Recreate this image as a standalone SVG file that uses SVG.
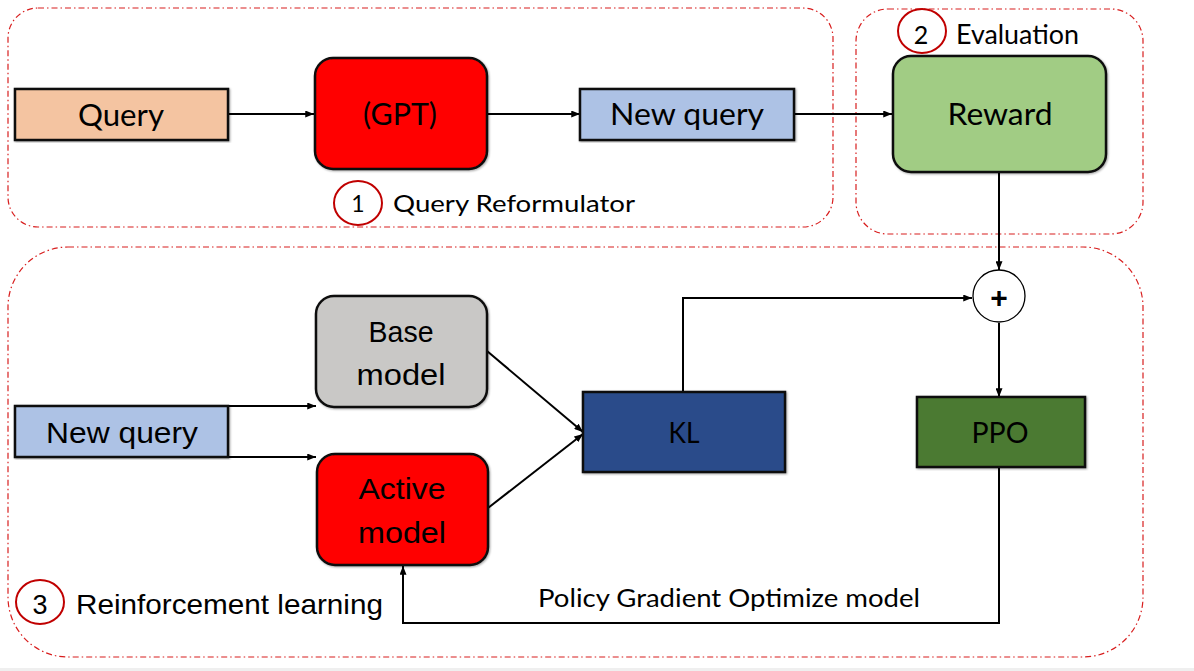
<svg xmlns="http://www.w3.org/2000/svg" width="1194" height="671" viewBox="0 0 1194 671">
<defs>
<style>
.grp{fill:none;stroke:#d81e1e;stroke-width:1.2;stroke-dasharray:6 3 1.5 3}
.box{stroke:#111;stroke-width:2.5}
.conn{fill:none;stroke:#000;stroke-width:2}
.num{fill:#fff;stroke:#c00000;stroke-width:2}
.cal{font-family:Lato,"Open Sans",sans-serif;fill:#000;text-anchor:middle}
.ar{font-family:"Liberation Sans",Arial,sans-serif;fill:#000;text-anchor:middle}
.lbl{text-anchor:start}
</style>
<marker id="ah" viewBox="0 0 10 8" refX="10" refY="4" markerWidth="9" markerHeight="7" markerUnits="userSpaceOnUse" orient="auto">
<path d="M0,0 L10,4 L0,8 z" fill="#000"/>
</marker>
<filter id="sh" x="-5%" y="-5%" width="110%" height="110%">
<feDropShadow dx="1" dy="1" stdDeviation="1" flood-color="#000" flood-opacity="0.35"/>
</filter>
</defs>
<rect x="0" y="0" width="1194" height="671" fill="#fff"/>
<rect x="0" y="668" width="1194" height="3" fill="#efefef"/>

<g id="group-reformulator">
<rect class="grp" x="8" y="8" width="825" height="219" rx="30"/>
<ellipse class="num" cx="358" cy="203" rx="24" ry="22"/>
<text class="cal" x="358" y="212" font-size="23">1</text>
<text class="cal lbl" x="393" y="212" font-size="23" textLength="242" lengthAdjust="spacingAndGlyphs">Query Reformulator</text>
</g>
<g id="group-evaluation">
<rect class="grp" x="856" y="9" width="287" height="225" rx="32"/>
<ellipse class="num" cx="922" cy="31" rx="24" ry="22"/>
<text class="cal" x="921" y="44" font-size="25">2</text>
<text class="cal lbl" x="956" y="44" font-size="26" textLength="123" lengthAdjust="spacingAndGlyphs">Evaluation</text>
</g>
<g id="group-rl">
<rect class="grp" x="8" y="247" width="1135" height="410" rx="60"/>
<ellipse class="num" cx="40" cy="602" rx="24" ry="22"/>
<text class="ar" x="40" y="614" font-size="27">3</text>
<text class="ar lbl" x="76" y="614" font-size="28" textLength="307" lengthAdjust="spacingAndGlyphs">Reinforcement learning</text>
</g>

<g id="connectors">
<path class="conn" d="M228,114 H314" marker-end="url(#ah)"/>
<path class="conn" d="M487,114 H580" marker-end="url(#ah)"/>
<path class="conn" d="M794,114 H892" marker-end="url(#ah)"/>
<path class="conn" d="M999,173 V270" marker-end="url(#ah)"/>
<path class="conn" d="M683,392 V298 H972" marker-end="url(#ah)"/>
<path class="conn" d="M999,323 V397" marker-end="url(#ah)"/>
<path class="conn" d="M228,406 H316" marker-end="url(#ah)"/>
<path class="conn" d="M228,457 H316" marker-end="url(#ah)"/>
<path class="conn" d="M487,351 L583,432" marker-end="url(#ah)"/>
<path class="conn" d="M488,508 L583,434" marker-end="url(#ah)"/>
<path class="conn" d="M999,467 V623 H403 V566" marker-end="url(#ah)"/>
<text class="cal lbl" x="538" y="607" font-size="25" textLength="382" lengthAdjust="spacingAndGlyphs">Policy Gradient Optimize model</text>
</g>

<g id="node-query">
<rect class="box" x="15" y="89" width="213" height="51" fill="#f4c4a1" filter="url(#sh)"/>
<text class="cal" x="121" y="126" font-size="30" textLength="86" lengthAdjust="spacingAndGlyphs">Query</text>
</g>
<g id="node-gpt">
<rect class="box" x="315" y="58" width="172" height="111" rx="18" fill="#ff0000" filter="url(#sh)"/>
<text class="cal" x="400" y="125" font-size="30" textLength="74" lengthAdjust="spacingAndGlyphs">(GPT)</text>
</g>
<g id="node-newquery-top">
<rect class="box" x="580" y="89" width="214" height="51" fill="#adc2e5" filter="url(#sh)"/>
<text class="cal" x="687" y="125" font-size="30" textLength="154" lengthAdjust="spacingAndGlyphs">New query</text>
</g>
<g id="node-reward">
<rect class="box" x="893" y="56" width="213" height="116" rx="18" fill="#a1cc84" filter="url(#sh)"/>
<text class="cal" x="1000" y="125" font-size="30" textLength="105" lengthAdjust="spacingAndGlyphs">Reward</text>
</g>
<g id="node-plus">
<circle cx="999" cy="296" r="26" fill="#fff" stroke="#000" stroke-width="1.3"/>
<text class="ar" x="999" y="308" font-size="30" font-weight="bold">+</text>
</g>
<g id="node-base">
<rect class="box" x="316" y="296" width="171" height="111" rx="18" fill="#c9c8c6" filter="url(#sh)"/>
<text class="ar" x="401" y="342" font-size="30" textLength="65" lengthAdjust="spacingAndGlyphs">Base</text>
<text class="ar" x="401" y="385" font-size="30" textLength="89" lengthAdjust="spacingAndGlyphs">model</text>
</g>
<g id="node-newquery-bottom">
<rect class="box" x="15" y="406" width="213" height="51" fill="#adc2e5" filter="url(#sh)"/>
<text class="ar" x="122" y="443" font-size="30" textLength="152" lengthAdjust="spacingAndGlyphs">New query</text>
</g>
<g id="node-active">
<rect class="box" x="317" y="454" width="171" height="111" rx="18" fill="#ff0000" filter="url(#sh)"/>
<text class="ar" x="402" y="499" font-size="30" textLength="87" lengthAdjust="spacingAndGlyphs">Active</text>
<text class="ar" x="402" y="543" font-size="30" textLength="88" lengthAdjust="spacingAndGlyphs">model</text>
</g>
<g id="node-kl">
<rect class="box" x="583" y="392" width="202" height="80" fill="#2b4c8a" filter="url(#sh)"/>
<text class="cal" x="684" y="443" font-size="29" textLength="31" lengthAdjust="spacingAndGlyphs">KL</text>
</g>
<g id="node-ppo">
<rect class="box" x="917" y="397" width="168" height="70" fill="#4b7a30" filter="url(#sh)"/>
<text class="cal" x="1000" y="443" font-size="29" textLength="57" lengthAdjust="spacingAndGlyphs">PPO</text>
</g>
</svg>
